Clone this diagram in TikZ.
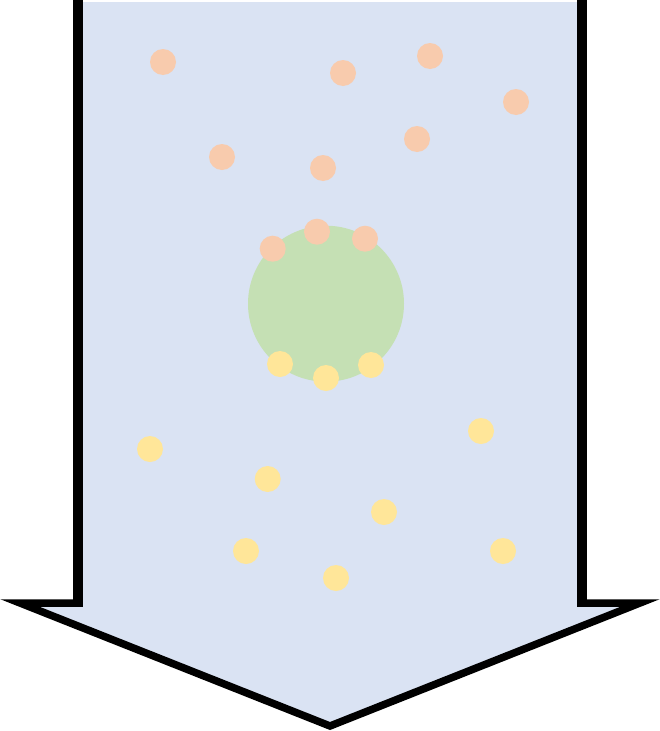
\documentclass[tikz,border=0pt]{standalone}
\begin{document}
\begin{tikzpicture}[x=1pt,y=-1pt,
  orangedot/.style={circle,fill=dotorange,draw=none,minimum size=26pt,inner sep=0pt},
  yellowdot/.style={circle,fill=dotyellow,draw=none,minimum size=26pt,inner sep=0pt},
  cell/.style={circle,fill=cellgreen,draw=none,minimum size=156pt,inner sep=0pt},
  outline/.style={draw=black,line width=7.5pt,line join=miter,miter limit=10}]
\definecolor{arrowblue}{HTML}{DAE3F3}
\definecolor{dotorange}{HTML}{F8CBAD}
\definecolor{dotyellow}{HTML}{FFE699}
\definecolor{cellgreen}{HTML}{C5E0B4}
\useasboundingbox (0,0) rectangle (659,731);
% arrow body
\fill[arrowblue] (78,2) -- (78,603) -- (20,603) -- (330,726) -- (640,603) -- (582,603) -- (582,2) -- cycle;
\draw[outline] (78,0) -- (78,603) -- (20,603) -- (330,726) -- (640,603) -- (582,603) -- (582,0);
\draw[line width=10pt] (78,0) -- (78,606.7);
\draw[line width=10pt] (582,0) -- (582,606.7);
% cell
\node[cell] (cell) at (326,303.7) {};
% orange particles
\node[orangedot] (o1) at (163,62) {};
\node[orangedot] (o2) at (343,73) {};
\node[orangedot] (o3) at (430,56) {};
\node[orangedot] (o4) at (516,102) {};
\node[orangedot] (o5) at (222,157) {};
\node[orangedot] (o6) at (323,168) {};
\node[orangedot] (o7) at (417,139) {};
\node[orangedot] (o8) at (272.7,248.7) {};
\node[orangedot] (o9) at (317,231.7) {};
\node[orangedot] (o10) at (365,238.7) {};
% yellow particles
\node[yellowdot] (y1) at (280,364) {};
\node[yellowdot] (y2) at (326,378) {};
\node[yellowdot] (y3) at (371,365) {};
\node[yellowdot] (y4) at (150,449) {};
\node[yellowdot] (y5) at (267.7,479) {};
\node[yellowdot] (y6) at (384,512) {};
\node[yellowdot] (y7) at (481,431) {};
\node[yellowdot] (y8) at (246,551) {};
\node[yellowdot] (y9) at (336,578) {};
\node[yellowdot] (y10) at (503,551) {};
\end{tikzpicture}
\end{document}
